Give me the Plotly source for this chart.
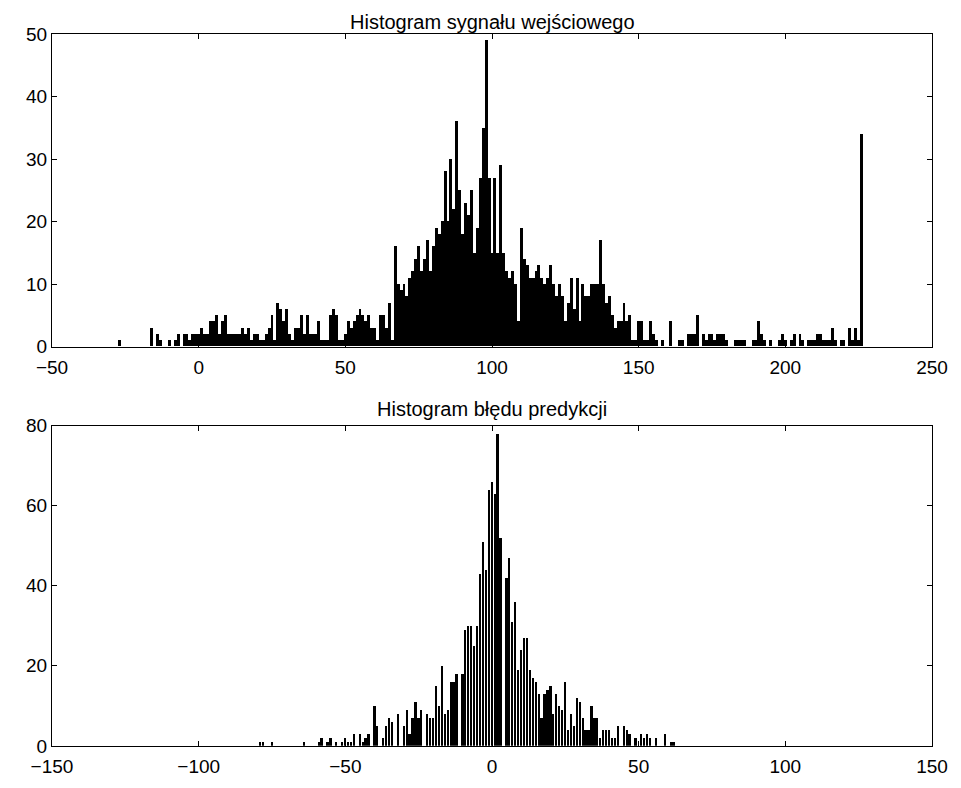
import plotly.graph_objects as go

# ---------------- data ----------------
# Top histogram: input-signal values (integer bins)
sig_start = -27
sig_counts = [
    1, 0, 0, 0, 0, 0, 0, 0, 0, 0, 0,            # -27 .. -17
    3, 0, 2, 1, 0, 0, 1, 0, 1, 2, 0,            # -16 .. -6
    2, 2, 1, 2, 2, 2, 3, 2, 2, 4, 4,            # -5 .. 5
    5, 2, 4, 5, 2, 2, 2, 2, 2, 3, 2,            # 6 .. 16
    3, 1, 2, 2, 1, 1, 2, 3, 5, 1, 7,            # 17 .. 27
    6, 4, 6, 2, 1, 3, 3, 5, 2, 5, 2,            # 28 .. 38
    2, 2, 4, 1, 1, 1, 5, 6, 5, 1, 1,            # 39 .. 49
    2, 4, 3, 4, 5, 6, 5, 4, 5, 3, 3,            # 50 .. 60
    1, 5, 5, 3, 7, 1, 16, 10, 9, 10, 8,         # 61 .. 71
    11, 12, 14, 16, 12, 14, 17, 12, 16, 19, 18, # 72 .. 82
    20, 28, 20, 30, 22, 36, 25, 18, 23, 21, 25, # 83 .. 93
    15, 19, 27, 35, 49, 27, 15, 27, 15, 29, 15, # 94 .. 104
    12, 11, 12, 10, 4, 19, 14, 13, 11, 11, 12,  # 105 .. 115
    13, 11, 10, 11, 13, 10, 8, 10, 8, 4, 7,     # 116 .. 126
    11, 6, 11, 4, 10, 8, 8, 10, 10, 10, 17,     # 127 .. 137
    10, 7, 8, 5, 3, 4, 4, 7, 4, 5, 1,           # 138 .. 148
    1, 4, 4, 1, 1, 4, 2, 1, 0, 1, 0,            # 149 .. 159
    0, 4, 0, 0, 1, 1, 0, 2, 2, 2, 5,            # 160 .. 170
    0, 2, 1, 2, 2, 1, 2, 2, 2, 1, 0,            # 171 .. 181
    0, 1, 1, 1, 1, 0, 0, 1, 1, 4, 2,            # 182 .. 192
    1, 0, 1, 0, 0, 1, 2, 1, 0, 1, 2,            # 193 .. 203
    0, 2, 1, 0, 1, 1, 1, 2, 2, 1, 1,            # 204 .. 214
    1, 3, 1, 0, 1, 1, 0, 3, 1, 3, 1,            # 215 .. 225
    34,                                         # 226
]
sig_x = [sig_start + i for i in range(len(sig_counts))]

# Bottom histogram: prediction-error values (integer bins)
err_start = -79
err_counts = [
    1, 1, 0, 0, 1, 0, 0, 0, 0, 0, 0,            # -79 .. -69
    0, 0, 0, 0, 1, 0, 0, 0, 0, 1, 2,            # -68 .. -58
    0, 1, 2, 0, 1, 0, 1, 2, 1, 1, 3,            # -57 .. -47
    0, 3, 1, 2, 3, 0, 10, 5, 0, 2, 5,           # -46 .. -36
    7, 6, 0, 8, 0, 5, 9, 3, 7, 11, 7,           # -35 .. -25
    9, 0, 8, 7, 7, 15, 10, 20, 8, 9, 16,        # -24 .. -14
    16, 18, 0, 18, 29, 30, 30, 25, 30, 43, 51,  # -13 .. -3
    44, 64, 66, 63, 78, 52, 0, 42, 47, 31, 36,  # -2 .. 8
    19, 24, 27, 27, 19, 17, 16, 13, 7, 13, 14,  # 9 .. 19
    15, 8, 13, 10, 9, 16, 4, 8, 5, 12, 11,      # 20 .. 30
    7, 4, 4, 10, 7, 7, 2, 4, 4, 4, 2,           # 31 .. 41
    2, 5, 0, 5, 4, 3, 0, 2, 0, 3, 2,            # 42 .. 52
    3, 2, 0, 2, 0, 0, 3, 0, 1, 1,               # 53 .. 62
]
err_x = [err_start + i for i in range(len(err_counts))]

sig_ticks_x = [-50, 0, 50, 100, 150, 200, 250]
sig_ticks_y = [0, 10, 20, 30, 40, 50]
err_ticks_x = [-150, -100, -50, 0, 50, 100, 150]
err_ticks_y = [0, 20, 40, 60, 80]

title_top = "Histogram sygnału wejściowego"
title_bottom = "Histogram błędu predykcji"

# ---------------- figure ----------------
W, H = 961, 788
fig = go.Figure()

fig.add_trace(go.Bar(x=sig_x, y=sig_counts, width=1.0,
                     marker=dict(color="black", line=dict(width=0)),
                     xaxis="x", yaxis="y", showlegend=False, hoverinfo="skip"))
fig.add_trace(go.Bar(x=err_x, y=err_counts, width=0.6,
                     marker=dict(color="black", line=dict(width=0)),
                     xaxis="x2", yaxis="y2", showlegend=False, hoverinfo="skip"))

font_family = "Liberation Sans, Arial, sans-serif"
axis_common = dict(showline=True, linecolor="black", linewidth=1, mirror="ticks",
                   ticks="inside", ticklen=5, tickcolor="black", tickwidth=1,
                   showgrid=False, zeroline=False,
                   tickfont=dict(family=font_family, size=19, color="black"))

top_dom = [1 - 346 / H, 1 - 25 / H]
bot_dom = [1 - 756 / H, 1 - 427 / H]

fig.update_layout(
    width=W, height=H,
    margin=dict(l=52, r=29, t=0, b=0),
    paper_bgcolor="white", plot_bgcolor="white",
    bargap=0,
    xaxis=dict(domain=[0, 1], range=[-50, 250], tickvals=sig_ticks_x, anchor="y",
               ticklabelstandoff=3, **axis_common),
    yaxis=dict(domain=top_dom, range=[0, 50], tickvals=sig_ticks_y, anchor="x", **axis_common),
    xaxis2=dict(domain=[0, 1], range=[-150, 150], tickvals=err_ticks_x, anchor="y2",
                ticklabelstandoff=3, **axis_common),
    yaxis2=dict(domain=bot_dom, range=[0, 80], tickvals=err_ticks_y, anchor="x2", **axis_common),
    annotations=[
        dict(text=title_top, x=0.5, xref="paper", y=1.0, yref="paper",
             showarrow=False, yanchor="top", borderpad=0,
             font=dict(family=font_family, size=20, color="black")),
        dict(text=title_bottom, x=0.5, xref="paper", y=1 - 410 / H, yref="paper",
             showarrow=False, yanchor="middle",
             font=dict(family=font_family, size=20, color="black")),
    ],
)

fig.write_html("out.html", config={"displayModeBar": False},
               post_script="document.body.style.margin='0';")
